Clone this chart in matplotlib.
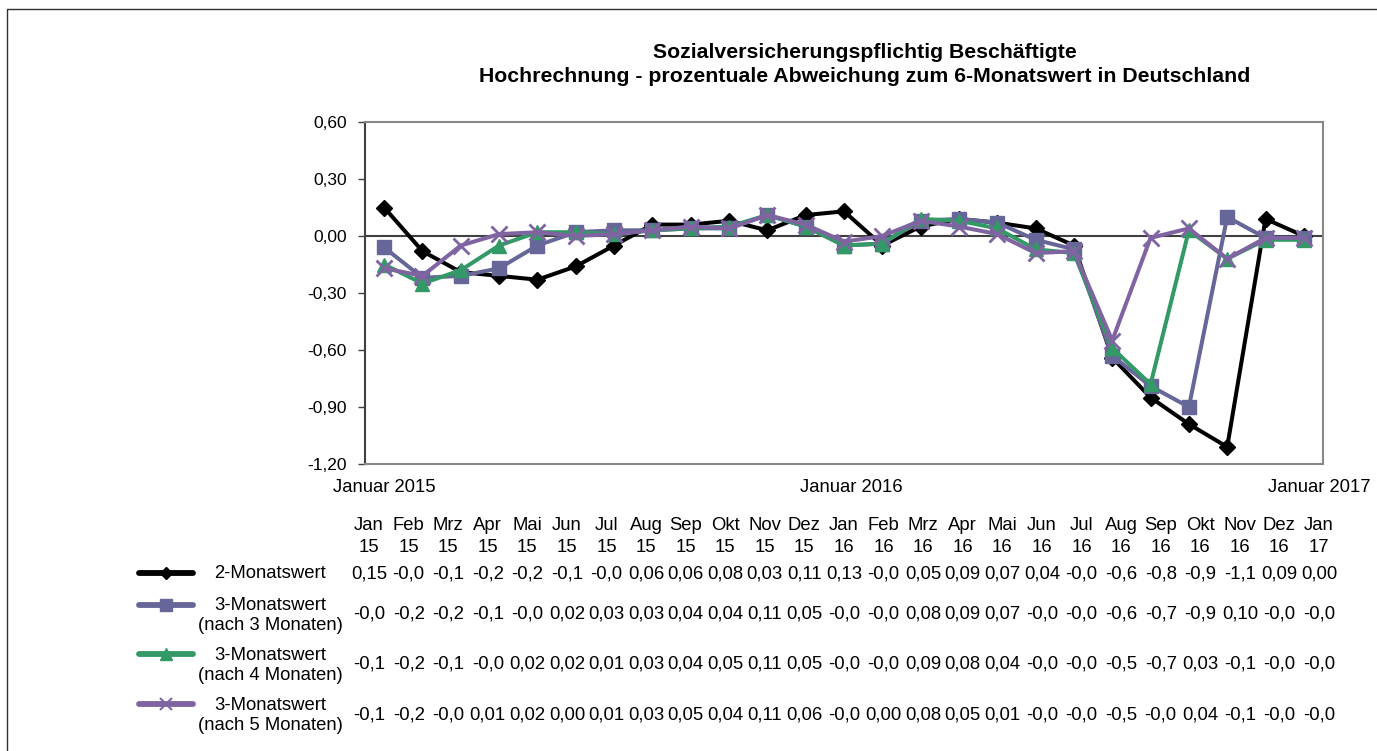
import matplotlib
matplotlib.use('Agg')
import matplotlib.pyplot as plt
from matplotlib.lines import Line2D
from matplotlib.patches import Rectangle
import numpy as np

plt.rcParams['font.family'] = ['Liberation Sans', 'DejaVu Sans']

months = ['Jan', 'Feb', 'Mrz', 'Apr', 'Mai', 'Jun', 'Jul', 'Aug', 'Sep', 'Okt', 'Nov', 'Dez',
          'Jan', 'Feb', 'Mrz', 'Apr', 'Mai', 'Jun', 'Jul', 'Aug', 'Sep', 'Okt', 'Nov', 'Dez', 'Jan']
years = ['15'] * 12 + ['16'] * 12 + ['17']

# plotted values
wert2 = [0.15, -0.08, -0.19, -0.21, -0.23, -0.16, -0.05, 0.06, 0.06, 0.08, 0.03, 0.11,
         0.13, -0.05, 0.05, 0.09, 0.07, 0.04, -0.05, -0.64, -0.85, -0.99, -1.11, 0.09, 0.00]
wert3_n3 = [-0.06, -0.22, -0.21, -0.17, -0.05, 0.02, 0.03, 0.03, 0.04, 0.04, 0.11, 0.05,
            -0.05, -0.04, 0.08, 0.09, 0.07, -0.02, -0.07, -0.63, -0.79, -0.90, 0.10, -0.01, -0.01]
wert3_n4 = [-0.15, -0.25, -0.18, -0.05, 0.02, 0.02, 0.01, 0.03, 0.04, 0.05, 0.11, 0.05,
            -0.05, -0.04, 0.09, 0.08, 0.04, -0.07, -0.09, -0.59, -0.78, 0.03, -0.12, -0.02, -0.02]
wert3_n5 = [-0.17, -0.21, -0.05, 0.01, 0.02, 0.00, 0.01, 0.03, 0.05, 0.04, 0.11, 0.06,
            -0.03, 0.00, 0.08, 0.05, 0.01, -0.09, -0.08, -0.55, -0.01, 0.04, -0.12, -0.01, -0.01]

series = [wert2, wert3_n3, wert3_n4, wert3_n5]
labels = ['2-Monatswert', '3-Monatswert\n(nach 3 Monaten)',
          '3-Monatswert\n(nach 4 Monaten)', '3-Monatswert\n(nach 5 Monaten)']
colors = ['#000000', '#666699', '#339966', '#8064A2']
markers = ['D', 's', '^', 'x']
msizes = [8, 10, 10, 11]

yticks = [0.6, 0.3, 0.0, -0.3, -0.6, -0.9, -1.2]
year_labels = ['Januar 2015', 'Januar 2016', 'Januar 2017']

W, H = 1377, 751
fig = plt.figure(figsize=(W / 100, H / 100), dpi=100)

def fx(px):
    return px / W

def fy(py):
    return 1 - py / H

# outer chart frame
fig.patches.append(Rectangle((fx(7), fy(760)), 1.2, fy(9) - fy(760), transform=fig.transFigure,
                             fill=False, edgecolor='#303030', linewidth=1.0))

ax = fig.add_axes([fx(365), fy(464), fx(1323) - fx(365), fy(122) - fy(464)])
x = np.arange(len(months))

ax.axhline(0, color='#404040', linewidth=1.5, zorder=1)
for vals, col, mk, ms in zip(series, colors, markers, msizes):
    ax.plot(x, vals, color=col, linewidth=2.9, marker=mk, markersize=ms,
            markeredgewidth=2 if mk == 'x' else 1, markeredgecolor=col, zorder=3)

ax.set_xlim(-0.5, len(months) - 0.5)
ax.set_ylim(-1.2, 0.6)
ax.set_yticks(yticks)
ax.set_yticklabels([f'{v:.2f}'.replace('.', ',') for v in yticks], fontsize=12.5)
ax.set_xticks([])
ax.tick_params(axis='y', length=5, width=1, color='#404040', pad=8)
for side in ['top', 'right', 'bottom']:
    ax.spines[side].set_color('#888888')
    ax.spines[side].set_linewidth(1.5)
ax.spines['left'].set_color('#404040')
ax.spines['left'].set_linewidth(1.5)

for lab, pos in zip(year_labels, [0, 12.2, 24.4]):
    ax.text(pos, -0.07, lab, transform=ax.get_xaxis_transform(), ha='center', va='center',
            fontsize=13.3)

fig.text(fx(865), fy(52), 'Sozialversicherungspflichtig Beschäftigte', ha='center', va='center',
         fontsize=15.3, fontweight='bold')
fig.text(fx(865), fy(76), 'Hochrechnung - prozentuale Abweichung zum 6-Monatswert in Deutschland',
         ha='center', va='center', fontsize=15.3, fontweight='bold')

# data table below the chart
col_x = np.linspace(369, 1319, len(months))
for cx, m, yr in zip(col_x, months, years):
    fig.text(fx(cx), fy(526), m, ha='center', va='center', fontsize=13.3)
    fig.text(fx(cx), fy(548), yr, ha='center', va='center', fontsize=13.3)

row_y = [574, 614, 664, 715]
line_y = [573, 605, 654, 704]
label_y = [[574], [605, 625], [655, 676], [705, 725]]

def cell(v):
    return f'{v:.2f}'.replace('.', ',')[:4]

for vals, col, mk, ms, lab, ry, ly, lys in zip(series, colors, markers, msizes, labels,
                                               row_y, line_y, label_y):
    fig.add_artist(Line2D([fx(139), fx(193)], [fy(ly), fy(ly)], transform=fig.transFigure,
                          color=col, linewidth=4.2, solid_capstyle='round'))
    fig.add_artist(Line2D([fx(166)], [fy(ly)], transform=fig.transFigure, color=col,
                          marker=mk, markersize=ms * 0.8, markeredgecolor=col,
                          markeredgewidth=1.5 if mk == 'x' else 1))
    for t, yy in zip(lab.split('\n'), lys):
        fig.text(fx(270), fy(yy), t, ha='center', va='center', fontsize=13.3)
    for cx, v in zip(col_x, vals):
        fig.text(fx(cx), fy(ry), cell(v), ha='center', va='center', fontsize=13.3)

fig.savefig('out.png', dpi=100)
